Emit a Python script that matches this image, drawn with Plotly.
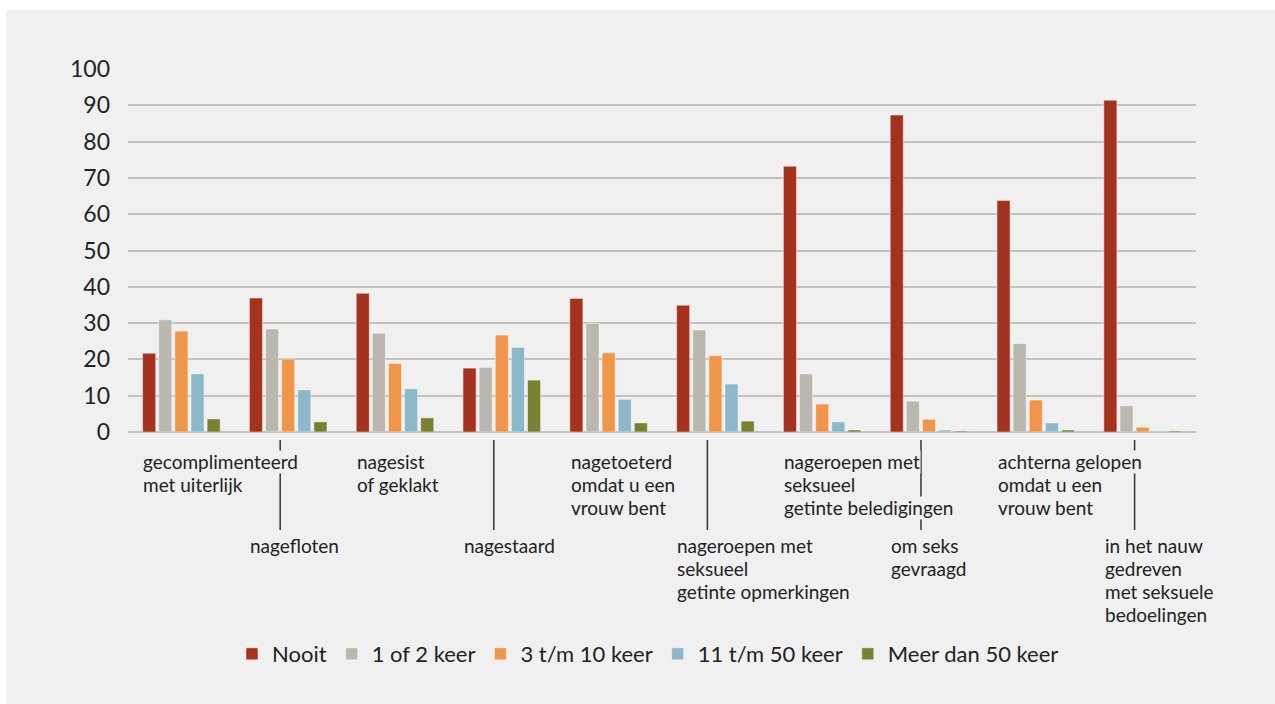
import plotly.graph_objects as go

categories = [
    "gecomplimenteerd met uiterlijk",
    "nagefloten",
    "nagesist of geklakt",
    "nagestaard",
    "nagetoeterd omdat u een vrouw bent",
    "nageroepen met seksueel getinte opmerkingen",
    "nageroepen met seksueel getinte beledigingen",
    "om seks gevraagd",
    "achterna gelopen omdat u een vrouw bent",
    "in het nauw gedreven met seksuele bedoelingen",
]
label_lines = [
    ["gecomplimenteerd", "met uiterlijk"],
    ["nagefloten"],
    ["nagesist", "of geklakt"],
    ["nagestaard"],
    ["nagetoeterd", "omdat u een", "vrouw bent"],
    ["nageroepen met", "seksueel", "getinte opmerkingen"],
    ["nageroepen met", "seksueel", "getinte beledigingen"],
    ["om seks", "gevraagd"],
    ["achterna gelopen", "omdat u een", "vrouw bent"],
    ["in het nauw", "gedreven", "met seksuele", "bedoelingen"],
]

series_names = ["Nooit", "1 of 2 keer", "3 t/m 10 keer", "11 t/m 50 keer", "Meer dan 50 keer"]
nooit = [21.7, 36.9, 38.2, 17.6, 36.8, 34.9, 73.2, 87.3, 63.8, 91.4]
een_of_twee = [30.9, 28.4, 27.2, 17.8, 29.9, 28.1, 16.0, 8.5, 24.4, 7.2]
drie_tot_tien = [27.8, 20.1, 18.9, 26.7, 21.8, 21.0, 7.7, 3.5, 8.8, 1.3]
elf_tot_vijftig = [16.0, 11.6, 11.9, 23.3, 9.0, 13.2, 2.8, 0.55, 2.5, 0.3]
meer_dan_vijftig = [3.6, 2.8, 3.9, 14.3, 2.5, 3.0, 0.55, 0.3, 0.55, 0.3]
series_values = [nooit, een_of_twee, drie_tot_tien, elf_tot_vijftig, meer_dan_vijftig]
colors = ["#a5321e", "#bab7af", "#f0964a", "#8cb8c9", "#798133"]

y_ticks = [0, 10, 20, 30, 40, 50, 60, 70, 80, 90, 100]

BG = "#f0f0f0"
TXT = "#222222"
FONT = "Lato"

W, H = 1275, 704
ML, MR, MT, MB = 128, 79, 69, 272
PH = H - MT - MB
PW = W - ML - MR


def py(p):
    return (H - MB - p) / PH


def px(p):
    return (p - ML) / PW


fig = go.Figure()
for name, vals, col in zip(series_names, series_values, colors):
    fig.add_trace(go.Bar(
        x=list(range(len(categories))), y=vals, name=name,
        marker=dict(color=col, line=dict(color="rgba(255,255,255,0.45)", width=1)),
        hovertext=categories,
    ))

shapes = []
annotations = []
# white frame strips (top, left)
shapes.append(dict(type="rect", xref="paper", yref="paper", x0=px(-5), x1=px(6),
                   y0=py(-5), y1=py(H + 5), fillcolor="white", line=dict(width=0), layer="below"))
shapes.append(dict(type="rect", xref="paper", yref="paper", x0=px(-5), x1=px(W + 5),
                   y0=py(-5), y1=py(10), fillcolor="white", line=dict(width=0), layer="below"))

top_rows = [461.5, 484.5, 507.5]
bot_rows = [546, 569, 592, 615]
for i, lines in enumerate(label_lines):
    rows = top_rows if i % 2 == 0 else bot_rows
    if i % 2 == 1:
        shapes.append(dict(type="line", xref="x", yref="paper", x0=i - 0.075, x1=i - 0.075,
                           y0=py(440), y1=py(530), line=dict(color="#333333", width=1.5)))
    for j, t in enumerate(lines):
        annotations.append(dict(
            text=t, x=i - 0.365, xref="x", xanchor="left",
            y=py(rows[j]), yref="paper", yanchor="middle",
            showarrow=False, bgcolor=BG, borderpad=0, height=22, valign="bottom",
            font=dict(family=FONT, size=19, color=TXT),
        ))

fig.update_layout(
    width=W, height=H,
    margin=dict(l=ML, r=MR, t=MT, b=MB),
    paper_bgcolor=BG, plot_bgcolor=BG,
    barmode="group", bargap=0.245, bargroupgap=0.19,
    font=dict(family=FONT, color=TXT),
    xaxis=dict(range=[-0.5, len(categories) - 0.5], showticklabels=False, showgrid=False,
               zeroline=False, ticks="", fixedrange=True),
    yaxis=dict(range=[0, 100], tickvals=y_ticks, showgrid=True, gridcolor="#c4c2bc",
               gridwidth=2, zeroline=True, zerolinecolor="#c4c2bc", zerolinewidth=2,
               tickfont=dict(family=FONT, size=23, color=TXT), ticklabelstandoff=17),
    showlegend=True,
    legend=dict(orientation="h", x=px(648), xanchor="center", y=py(654), yanchor="middle",
                font=dict(family=FONT, size=22, color=TXT), bgcolor="rgba(0,0,0,0)",
                traceorder="normal"),
    shapes=shapes,
    annotations=annotations,
)

fig.write_html("out.html", config={"displayModeBar": False},
               post_script="document.body.style.margin='0';document.body.style.overflow='hidden';")
